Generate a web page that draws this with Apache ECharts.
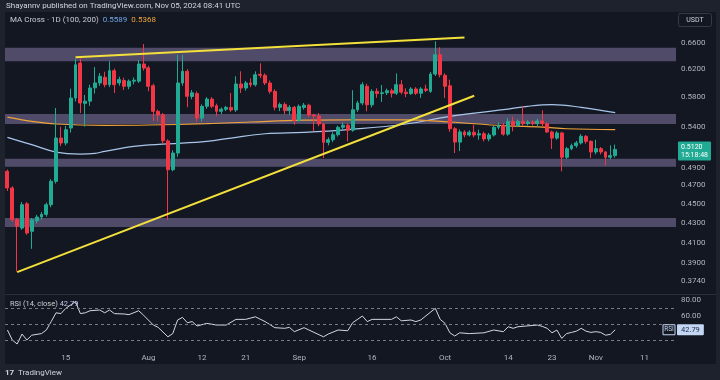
<!DOCTYPE html>
<html><head><meta charset="utf-8">
<script src="https://cdn.jsdelivr.net/npm/echarts@6/dist/echarts.min.js"></script>
<style>html,body{margin:0;padding:0;background:#1e222d;}#c{width:720px;height:380px;}</style>
</head><body><div id="c"></div>
<script>
const dates = [
'2024-07-03','2024-07-04','2024-07-05','2024-07-06','2024-07-07','2024-07-08','2024-07-09','2024-07-10','2024-07-11','2024-07-12',
'2024-07-13','2024-07-14','2024-07-15','2024-07-16','2024-07-17','2024-07-18','2024-07-19','2024-07-20','2024-07-21','2024-07-22',
'2024-07-23','2024-07-24','2024-07-25','2024-07-26','2024-07-27','2024-07-28','2024-07-29','2024-07-30','2024-07-31',
'2024-08-01','2024-08-02','2024-08-03','2024-08-04','2024-08-05','2024-08-06','2024-08-07','2024-08-08','2024-08-09','2024-08-10',
'2024-08-11','2024-08-12','2024-08-13','2024-08-14','2024-08-15','2024-08-16','2024-08-17','2024-08-18','2024-08-19','2024-08-20',
'2024-08-21','2024-08-22','2024-08-23','2024-08-24','2024-08-25','2024-08-26','2024-08-27','2024-08-28','2024-08-29','2024-08-30','2024-08-31',
'2024-09-01','2024-09-02','2024-09-03','2024-09-04','2024-09-05','2024-09-06','2024-09-07','2024-09-08','2024-09-09','2024-09-10',
'2024-09-11','2024-09-12','2024-09-13','2024-09-14','2024-09-15','2024-09-16','2024-09-17','2024-09-18','2024-09-19','2024-09-20',
'2024-09-21','2024-09-22','2024-09-23','2024-09-24','2024-09-25','2024-09-26','2024-09-27','2024-09-28','2024-09-29','2024-09-30',
'2024-10-01','2024-10-02','2024-10-03','2024-10-04','2024-10-05','2024-10-06','2024-10-07','2024-10-08','2024-10-09','2024-10-10',
'2024-10-11','2024-10-12','2024-10-13','2024-10-14','2024-10-15','2024-10-16','2024-10-17','2024-10-18','2024-10-19','2024-10-20',
'2024-10-21','2024-10-22','2024-10-23','2024-10-24','2024-10-25','2024-10-26','2024-10-27','2024-10-28','2024-10-29','2024-10-30','2024-10-31',
'2024-11-01','2024-11-02','2024-11-03','2024-11-04','2024-11-05','2024-11-06','2024-11-07','2024-11-08','2024-11-09','2024-11-10',
'2024-11-11','2024-11-12','2024-11-13','2024-11-14','2024-11-15','2024-11-16','2024-11-17'];

// [open, close, low, high]
const candles = [
[0.486,0.467,0.4636,0.488],[0.467,0.433,0.4306,0.469],[0.433,0.4262,0.3826,0.4347],[0.4244,0.4487,0.4227,0.4515],[0.4497,0.4194,0.4177,0.4515],
[0.4211,0.4329,0.4039,0.4347],[0.4319,0.4357,0.429,0.438],[0.4357,0.4385,0.433,0.441],[0.4385,0.4487,0.436,0.451],[0.4487,0.4745,0.446,0.477],
[0.4745,0.5261,0.472,0.5652],[0.5261,0.5199,0.5162,0.5405],[0.5199,0.5367,0.517,0.5415],[0.5388,0.5788,0.533,0.5918],[0.5788,0.6267,0.574,0.6354],
[0.6292,0.572,0.5585,0.6363],[0.5715,0.5745,0.5406,0.583],[0.5745,0.5928,0.568,0.5975],[0.593,0.600,0.585,0.6232],[0.600,0.6096,0.596,0.6144],
[0.6081,0.5975,0.5938,0.6163],[0.5975,0.6178,0.594,0.6318],[0.6178,0.5975,0.5858,0.621],[0.600,0.6048,0.596,0.609],[0.6035,0.5952,0.590,0.6075],
[0.5952,0.6026,0.591,0.605],[0.6026,0.604,0.598,0.608],[0.6026,0.6277,0.600,0.6337],[0.6277,0.6217,0.618,0.6584],[0.622,0.5952,0.5881,0.625],
[0.596,0.5607,0.5478,0.599],[0.5607,0.5557,0.5475,0.563],[0.556,0.5227,0.519,0.5585],[0.5225,0.4878,0.4329,0.5245],[0.4878,0.5076,0.486,0.511],
[0.5076,0.600,0.503,0.6418],[0.600,0.6169,0.596,0.6418],[0.6169,0.5812,0.5663,0.62],[0.581,0.586,0.577,0.590],[0.585,0.5518,0.547,0.588],
[0.5518,0.5675,0.547,0.570],[0.5675,0.5774,0.564,0.580],[0.5774,0.5675,0.565,0.580],[0.5683,0.5607,0.5544,0.571],[0.5607,0.5636,0.557,0.566],
[0.5636,0.566,0.561,0.568],[0.566,0.5625,0.560,0.5858],[0.5625,0.5985,0.560,0.6096],[0.5985,0.5928,0.5858,0.6169],[0.5928,0.600,0.589,0.603],
[0.600,0.5975,0.594,0.6066],[0.5975,0.6119,0.595,0.6169],[0.6125,0.611,0.607,0.6288],[0.611,0.600,0.597,0.614],[0.600,0.5881,0.585,0.6035],
[0.5881,0.5661,0.562,0.591],[0.5661,0.570,0.561,0.5725],[0.570,0.5616,0.557,0.573],[0.5616,0.5661,0.556,0.569],[0.5661,0.549,0.5432,0.568],
[0.549,0.5675,0.547,0.570],[0.566,0.569,0.563,0.572],[0.569,0.5557,0.553,0.571],[0.5557,0.5545,0.535,0.5575],[0.5545,0.544,0.541,0.5585],
[0.544,0.5207,0.5016,0.5455],[0.5207,0.524,0.517,0.527],[0.524,0.5303,0.521,0.5335],[0.5303,0.5397,0.528,0.542],[0.5397,0.5425,0.536,0.546],
[0.5425,0.536,0.522,0.5445],[0.536,0.5628,0.534,0.5897],[0.5628,0.572,0.560,0.575],[0.572,0.5975,0.569,0.601],[0.5952,0.5695,0.5607,0.599],
[0.5695,0.5881,0.566,0.591],[0.5881,0.585,0.579,0.5925],[0.585,0.5862,0.5734,0.5971],[0.5862,0.589,0.583,0.592],[0.589,0.5855,0.5795,0.592],
[0.5855,0.5975,0.583,0.6138],[0.5975,0.587,0.584,0.604],[0.587,0.585,0.580,0.5925],[0.585,0.5914,0.583,0.594],[0.5914,0.5855,0.583,0.594],
[0.5855,0.5914,0.579,0.594],[0.5914,0.5895,0.587,0.5975],[0.5881,0.6129,0.586,0.616],[0.6129,0.6418,0.610,0.6627],[0.6418,0.6119,0.608,0.6533],
[0.611,0.5952,0.5788,0.614],[0.596,0.5379,0.534,0.6048],[0.5379,0.521,0.5076,0.540],[0.521,0.5338,0.510,0.537],[0.5338,0.5299,0.527,0.536],
[0.5299,0.5335,0.528,0.536],[0.5335,0.5299,0.527,0.5432],[0.5299,0.5315,0.524,0.5367],[0.5315,0.525,0.522,0.534],[0.525,0.530,0.522,0.5325],
[0.530,0.5397,0.528,0.542],[0.5397,0.5425,0.537,0.546],[0.5425,0.531,0.529,0.5453],[0.531,0.5475,0.529,0.5518],[0.5475,0.542,0.5346,0.5535],
[0.542,0.5475,0.540,0.550],[0.5475,0.5444,0.542,0.5681],[0.5444,0.5465,0.542,0.549],[0.5465,0.5444,0.542,0.549],[0.5444,0.548,0.541,0.551],
[0.548,0.5444,0.541,0.562],[0.5444,0.5338,0.5325,0.546],[0.5338,0.526,0.5125,0.5355],[0.526,0.5325,0.524,0.535],[0.5325,0.5025,0.4859,0.534],
[0.5025,0.5129,0.5005,0.515],[0.5129,0.5166,0.511,0.519],[0.5166,0.520,0.514,0.5225],[0.520,0.5283,0.518,0.531],[0.5283,0.522,0.519,0.530],
[0.522,0.5089,0.5016,0.523],[0.5089,0.5129,0.506,0.524],[0.5129,0.5089,0.506,0.515],[0.5089,0.5025,0.4926,0.510],[0.5025,0.5045,0.500,0.517],
[0.5045,0.512,0.502,0.518]];

const ma100 = [['2024-07-03',0.527],['2024-07-08',0.5178],['2024-07-13',0.5088],['2024-07-18',0.5064],['2024-07-21',0.5072],['2024-07-23',0.5096],
['2024-07-29',0.5158],['2024-08-05',0.5187],['2024-08-13',0.522],['2024-08-18',0.5261],['2024-08-25',0.5315],['2024-09-02',0.5333],
['2024-09-11',0.5368],['2024-09-23',0.544],['2024-10-02',0.5541],['2024-10-13',0.5629],['2024-10-18',0.5675],['2024-10-23',0.5697],
['2024-10-29',0.5661],['2024-11-05',0.5589]];
const ma200 = [['2024-07-03',0.5531],['2024-07-08',0.5475],['2024-07-13',0.544],['2024-07-23',0.5423],['2024-08-01',0.5427],['2024-08-13',0.5444],
['2024-08-22',0.5466],['2024-09-02',0.549],['2024-09-11',0.5495],['2024-09-23',0.5495],['2024-10-02',0.5466],['2024-10-13',0.5418],
['2024-10-21',0.5401],['2024-10-26',0.5379],['2024-11-05',0.5368]];

const rsi = [['2024-07-03',42.5],['2024-07-04',30],['2024-07-05',25],['2024-07-06',37.5],['2024-07-07',30],['2024-07-08',36],['2024-07-10',38],
['2024-07-11',42.5],['2024-07-12',53],['2024-07-13',64],['2024-07-14',63],['2024-07-15',69.6],['2024-07-17',78],['2024-07-18',63],['2024-07-19',64],
['2024-07-20',66.6],['2024-07-22',67.5],['2024-07-23',64],['2024-07-24',67.5],['2024-07-25',63],['2024-07-27',62.5],['2024-07-28',61.7],
['2024-07-30',66.6],['2024-07-31',61],['2024-08-02',48.7],['2024-08-03',45.8],['2024-08-05',34],['2024-08-06',38],['2024-08-07',55],
['2024-08-08',58.3],['2024-08-09',51.6],['2024-08-10',53],['2024-08-11',47.5],['2024-08-13',50.8],['2024-08-15',48.7],['2024-08-17',48.7],
['2024-08-19',55.8],['2024-08-21',55.8],['2024-08-23',59],['2024-08-25',53],['2024-08-27',45.4],['2024-08-29',44.6],['2024-08-30',45.8],
['2024-08-31',40.4],['2024-09-02',45.4],['2024-09-03',42.5],['2024-09-06',34],['2024-09-07',37.5],['2024-09-09',42.5],['2024-09-11',41.6],
['2024-09-12',51.6],['2024-09-14',60],['2024-09-15',53],['2024-09-16',55.8],['2024-09-20',55.8],['2024-09-21',59],['2024-09-22',54],
['2024-09-24',55],['2024-09-25',53],['2024-09-26',55],['2024-09-29',69.6],['2024-09-30',55.8],['2024-10-01',50.8],['2024-10-02',39],
['2024-10-03',35],['2024-10-04',39],['2024-10-06',38],['2024-10-09',39],['2024-10-11',42.5],['2024-10-13',40.4],['2024-10-14',46.6],
['2024-10-15',44.6],['2024-10-16',46.6],['2024-10-20',48.7],['2024-10-21',47],['2024-10-22',44.6],['2024-10-23',39],['2024-10-24',42.5],
['2024-10-25',32],['2024-10-26',38],['2024-10-27',39.5],['2024-10-28',41],['2024-10-29',44.6],['2024-10-30',41],['2024-10-31',39.5],
['2024-11-01',40.4],['2024-11-02',39.5],['2024-11-03',36],['2024-11-04',37],['2024-11-05',42.79]];

const zoneTop = [0.6526, 0.5570, 0.5008, 0.4347];
const zoneBottom = [0.6318, 0.5440, 0.4913, 0.4254];
const upperTrend = [['2024-07-17',0.6378],['2024-10-05',0.6689]];
const lowerTrend = [['2024-07-05',0.382],['2024-10-07',0.582]];

const priceTicks = [0.66,0.62,0.58,0.54,0.49,0.47,0.45,0.43,0.41,0.39,0.374];
const rsiTicks = [80,60];
const rsiLevels = [70,50,30];
const tickDates = ['2024-07-15','2024-08-01','2024-08-12','2024-08-21','2024-09-01','2024-09-16','2024-10-01','2024-10-14','2024-10-23','2024-11-01','2024-11-11'];
const tickLabels = ['15','Aug','12','21','Sep','16','Oct','14','23','Nov','11'];

const lastPrice = candles[candles.length-1][1];
const countdown = '15:18:48';
const ma100Last = 0.5589, ma200Last = 0.5368;
const rsiLast = rsi[rsi.length-1][1];

// layout
const PMIN = 0.3626, PMAX = 0.7107;
const RMIN = 18.75, RMAX = 86.25;
const FONT = 'Roboto, "DejaVu Sans", sans-serif';
const TXT = '#b2b5be';
const UP = '#22ab94', DOWN = '#f23645';
const CLEAR = 'rgba(0,0,0,0)';

const chart = echarts.init(document.getElementById('c'), null, {renderer:'canvas'});
const option = {
  animation: false,
  backgroundColor: '#1e222d',
  textStyle: {fontFamily: FONT},
  grid: [
    {left: 5, right: 44, top: 12, height: 282},
    {left: 5, right: 44, top: 295, height: 54}
  ],
  xAxis: [
    {type:'category', gridIndex:0, data: dates, boundaryGap:true,
     axisLine:{show:false}, axisTick:{show:false}, axisLabel:{show:false}, splitLine:{show:false}},
    {type:'category', gridIndex:1, data: dates, boundaryGap:true,
     axisLine:{show:false}, axisTick:{show:false}, splitLine:{show:false},
     axisLabel:{show:true, color:TXT, fontSize:8, margin:5, fontFamily:FONT,
       interval:(i, v) => tickDates.indexOf(v) >= 0,
       formatter:(v) => { const k = tickDates.indexOf(v); return k >= 0 ? tickLabels[k] : ''; }}}
  ],
  yAxis: [
    {type:'log', gridIndex:0, logBase:10, min:PMIN, max:PMAX, position:'right', show:true,
     axisLine:{show:false}, axisTick:{show:false}, axisLabel:{show:false}, splitLine:{show:false}},
    {type:'value', gridIndex:0, min:Math.log(PMIN), max:Math.log(PMAX), position:'right',
     axisLine:{show:false}, axisTick:{show:false}, splitLine:{show:false},
     axisLabel:{show:true, customValues: priceTicks.map(v => Math.log(v)), color:TXT, fontSize:8, margin:5, fontFamily:FONT,
       formatter:(v) => Math.exp(v).toFixed(4)}},
    {type:'value', gridIndex:1, min:RMIN, max:RMAX, position:'right',
     axisLine:{show:false}, axisTick:{show:false}, splitLine:{show:false},
     axisLabel:{show:true, customValues: rsiTicks, color:TXT, fontSize:8, margin:5, fontFamily:FONT,
       formatter:(v) => v.toFixed(2)}}
  ],
  series: [
    {type:'line', name:'zones', xAxisIndex:0, yAxisIndex:0, data:[], z:1, silent:true,
     markArea:{silent:true, itemStyle:{color:'rgba(126,114,158,0.58)'},
       data: zoneTop.map((t, k) => [{yAxis:t}, {yAxis:zoneBottom[k]}])}},
    {type:'line', name:'MA100', xAxisIndex:0, yAxisIndex:0, data:ma100, smooth:0.4, symbol:'none', z:3,
     lineStyle:{color:'#a9c6ea', width:1.2}},
    {type:'line', name:'MA200', xAxisIndex:0, yAxisIndex:0, data:ma200, smooth:0.4, symbol:'none', z:3,
     lineStyle:{color:'#f0a33a', width:1.2}},
    {type:'candlestick', name:'XRPUSDT', xAxisIndex:0, yAxisIndex:0, data:candles, z:4, barWidth:'70%',
     itemStyle:{color:UP, color0:DOWN, borderColor:UP, borderColor0:DOWN, borderWidth:1},
     markLine:{silent:true, symbol:'none', animation:false, clip:false,
       data:[{yAxis:lastPrice, lineStyle:{color:CLEAR, width:1},
         label:{show:true, position:'end', distance:2, formatter:() => lastPrice.toFixed(4) + '\n' + countdown,
           backgroundColor:UP, color:'#ffffff', fontSize:7, lineHeight:8, padding:[2,3,1,3], fontFamily:FONT, borderRadius:1}}]}},
    {type:'line', name:'upperTrend', xAxisIndex:0, yAxisIndex:0, data:upperTrend, symbol:'none', z:5,
     lineStyle:{color:'#f3e03b', width:2}},
    {type:'line', name:'lowerTrend', xAxisIndex:0, yAxisIndex:0, data:lowerTrend, symbol:'none', z:5,
     lineStyle:{color:'#f3e03b', width:2}},
    {type:'line', name:'RSI', xAxisIndex:1, yAxisIndex:2, data:rsi, symbol:'none', z:3,
     lineStyle:{color:'#d3d6e4', width:1},
     markLine:{silent:true, symbol:'none', animation:false, clip:false,
       data: rsiLevels.map(v => ({yAxis:v, lineStyle:{color:'#787b86', type:[3,3], width:1}, label:{show:false}})).concat([
         {yAxis:rsiLast, lineStyle:{color:CLEAR, width:1},
          label:{show:true, position:'end', distance:1, formatter:() => rsiLast.toFixed(2),
            backgroundColor:'#c3d6f2', color:'#1a2a48', fontSize:7.5, padding:[2,4,1,4], fontFamily:FONT, borderRadius:1}}])}}
  ],
  graphic: [
    {type:'rect', id:'pane', z:-10, silent:true, shape:{x:5, y:12, width:711, height:352}, style:{fill:'#131722'}},
    {type:'line', id:'sep', z:10, silent:true, shape:{x1:5, y1:294.5, x2:716, y2:294.5}, style:{stroke:'#2a2e39', lineWidth:1}},
    {type:'text', id:'pub', z:10, x:6, y:2, style:{text:'Shayannv published on TradingView.com, Nov 05, 2024 08:41 UTC', fill:'#d1d4dc', fontSize:8, fontFamily:FONT}},
    {type:'text', id:'ma', z:10, x:10, y:16, style:{
      text:'{a|MA Cross · 1D (100, 200)}  {b|' + ma100Last.toFixed(4) + '}  {c|' + ma200Last.toFixed(4) + '}',
      fontSize:8, fontFamily:FONT,
      rich:{a:{fill:'#c9ccd4', fontSize:8, fontFamily:FONT}, b:{fill:'#6fa6e8', fontSize:8, fontFamily:FONT}, c:{fill:'#f0a33a', fontSize:8, fontFamily:FONT}}}},
    {type:'rect', id:'usdtbox', z:10, shape:{x:678.5, y:13.5, width:33, height:13, r:2}, style:{fill:'#131722', stroke:'#363a45', lineWidth:1}},
    {type:'text', id:'usdt', z:11, x:695, y:20, style:{text:'USDT', fill:'#d1d4dc', fontSize:7, fontFamily:FONT, align:'center', verticalAlign:'middle'}},
    {type:'text', id:'rsihead', z:10, x:10, y:300, style:{
      text:'{a|RSI (14, close)} {b|' + rsiLast.toFixed(2) + '}', fontSize:7.5, fontFamily:FONT,
      rich:{a:{fill:'#c9ccd4', fontSize:7.5, fontFamily:FONT}, b:{fill:'#c8c4ea', fontSize:7.5, fontFamily:FONT}}}},
    {type:'text', id:'logo', z:10, x:5, y:369, style:{text:'17', fill:'#d1d4dc', fontSize:8, fontWeight:'bold', fontFamily:FONT}},
    {type:'text', id:'tv', z:10, x:18, y:369, style:{text:'TradingView', fill:'#d1d4dc', fontSize:8, fontFamily:FONT}}
  ]
};
chart.setOption(option);
const ry = chart.convertToPixel({yAxisIndex:2}, rsiLast);
chart.setOption({graphic:[
  {type:'rect', id:'rsitagbox', z:10, shape:{x:663, y:ry-5, width:12, height:10}, style:{fill:'#131722', stroke:'#c3d6f2', lineWidth:1}},
  {type:'text', id:'rsitag', z:11, x:669, y:ry, style:{text:'RSI', fill:'#c3d6f2', fontSize:6.5, fontFamily:FONT, align:'center', verticalAlign:'middle'}}
]});
</script></body></html>
